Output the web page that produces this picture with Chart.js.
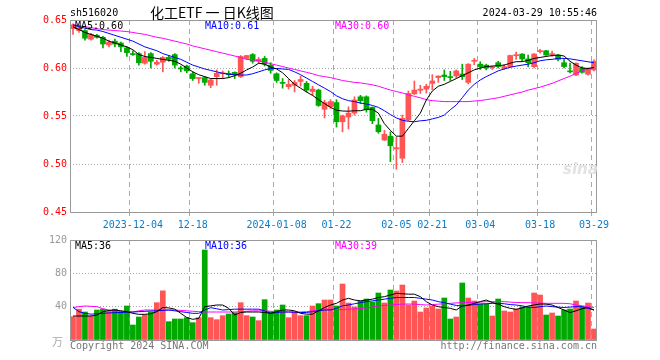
<!DOCTYPE html>
<html>
<head>
<meta charset="utf-8">
<script src="https://cdn.jsdelivr.net/npm/chart.js@4"></script>
<style>
  body { margin:0; background:#fff; }
  #wrap { position:relative; width:660px; height:360px; overflow:hidden; }
  canvas { position:absolute; left:0; }
  .t { position:absolute; font:10px "DejaVu Sans Mono", monospace; line-height:12px; white-space:pre; }
</style>
</head>
<body>
<div id="wrap">
  <canvas id="k" width="660" height="232" style="top:0"></canvas>
  <canvas id="v" width="660" height="130" style="top:230px"></canvas>
  <div class="t" style="left:70px;top:7px">sh516020</div>
  <div class="t" style="left:150px;top:3px;font:14px 'Noto Sans CJK SC';line-height:18px">化工ETF 一 日K线图</div>
  <div class="t" style="right:63px;top:7px">2024-03-29 10:55:46</div>
  <div class="t" style="left:75px;top:20px">MA5:0.60</div>
  <div class="t" style="left:205px;top:20px;color:#0000ff">MA10:0.61</div>
  <div class="t" style="left:335px;top:20px;color:#ff00ff">MA30:0.60</div>
  <div class="t" style="left:75px;top:240px">MA5:36</div>
  <div class="t" style="left:205px;top:240px;color:#0000ff">MA10:36</div>
  <div class="t" style="left:335px;top:240px;color:#ff00ff">MA30:39</div>
  <div class="t" style="left:52px;top:333px;color:#aaa;font:11px 'Noto Sans CJK SC'">万</div>
  <div class="t" style="left:70px;top:340px;color:#777">Copyright 2024 SINA.COM</div>
  <div class="t" style="right:63px;top:340px;color:#777">http://finance.sina.com.cn</div>
  <div class="t" style="left:563px;top:160px;color:#e2e2e2;font:italic bold 15px 'DejaVu Sans'">sina</div>
</div>
<script>
// trading days 2023-11-20 .. 2024-03-29
const dates = [
  '2023-11-20','2023-11-21','2023-11-22','2023-11-23','2023-11-24','2023-11-27','2023-11-28','2023-11-29','2023-11-30','2023-12-01',
  '2023-12-04','2023-12-05','2023-12-06','2023-12-07','2023-12-08','2023-12-11','2023-12-12','2023-12-13','2023-12-14','2023-12-15',
  '2023-12-18','2023-12-19','2023-12-20','2023-12-21','2023-12-22','2023-12-25','2023-12-26','2023-12-27','2023-12-28','2023-12-29',
  '2024-01-02','2024-01-03','2024-01-04','2024-01-05','2024-01-08','2024-01-09','2024-01-10','2024-01-11','2024-01-12','2024-01-15',
  '2024-01-16','2024-01-17','2024-01-18','2024-01-19','2024-01-22','2024-01-23','2024-01-24','2024-01-25','2024-01-26','2024-01-29',
  '2024-01-30','2024-01-31','2024-02-01','2024-02-02','2024-02-05','2024-02-06','2024-02-07','2024-02-08','2024-02-19','2024-02-20',
  '2024-02-21','2024-02-22','2024-02-23','2024-02-26','2024-02-27','2024-02-28','2024-02-29','2024-03-01','2024-03-04','2024-03-05',
  '2024-03-06','2024-03-07','2024-03-08','2024-03-11','2024-03-12','2024-03-13','2024-03-14','2024-03-15','2024-03-18','2024-03-19',
  '2024-03-20','2024-03-21','2024-03-22','2024-03-25','2024-03-26','2024-03-27','2024-03-28','2024-03-29'
];
const tickDates = ['2023-12-04','2023-12-18','2024-01-08','2024-01-22','2024-02-05','2024-02-21','2024-03-04','2024-03-18','2024-03-29'];
const tickTexts = ['2023-12-04','12-18','2024-01-08','01-22','02-05','02-21','03-04','03-18','03-29'];

const open = [
  .641,.639,.639,.630,.634,.632,.624,.628,.626,.621, .615,.615,.605,.615,.604,.606,.611,.614,.600,.602,
  .594,.589,.590,.582,.591,.594,.5945,.5955,.591,.610, .614,.607,.610,.603,.594,.585,.5805,.582,.586,.584,
  .5755,.577,.557,.5597,.564,.544,.549,.553,.570,.570, .559,.5406,.525,.529,.5157,.506,.546,.573,.5768,.578,
  .584,.590,.5927,.591,.5917,.5937,.585,.607,.604,.603, .6003,.6055,.5997,.6014,.6128,.6145,.6094,.6014,.617,.618,
  .614,.6135,.6055,.5965,.5927,.600,.5935,.598
];
const high = [
  .646,.643,.640,.636,.635,.633,.629,.630,.627,.622, .618,.616,.617,.616,.608,.612,.613,.615,.602,.603,
  .596,.590,.591,.5885,.598,.597,.597,.596,.613,.613, .615,.611,.612,.6055,.595,.589,.588,.587,.5915,.586,
  .581,.578,.5665,.567,.567,.551,.5595,.570,.5715,.571, .5595,.5475,.535,.5335,.528,.551,.576,.5865,.582,.583,
  .593,.5917,.598,.5965,.598,.604,.6045,.610,.6065,.604, .602,.607,.6035,.6135,.6165,.615,.6135,.615,.6195,.6185,
  .6175,.614,.609,.605,.6055,.6015,.600,.6085
];
const low = [
  .635,.637,.629,.629,.631,.621,.622,.622,.617,.612, .613,.603,.604,.600,.603,.596,.607,.600,.596,.595,
  .587,.584,.582,.5795,.582,.589,.590,.589,.590,.609, .605,.605,.602,.5945,.585,.579,.578,.575,.581,.575,
  .5715,.560,.548,.558,.5385,.5335,.5365,.551,.563,.554, .542,.532,.5245,.5025,.4945,.5015,.545,.5725,.5735,.574,
  .5775,.585,.587,.587,.5895,.588,.5835,.6035,.5985,.598, .5985,.600,.5985,.601,.609,.607,.601,.600,.6155,.613,
  .612,.6075,.600,.595,.592,.5945,.5925,.597
];
const close = [
  .645,.642,.631,.635,.632,.625,.627,.625,.622,.616, .614,.6055,.611,.607,.606,.611,.609,.603,.599,.597,
  .589,.590,.585,.5875,.5945,.595,.593,.593,.612,.613, .607,.609,.604,.5975,.587,.584,.583,.585,.588,.577,
  .578,.561,.564,.565,.544,.550,.553,.5667,.566,.5565, .545,.5336,.531,.519,.517,.5475,.5735,.577,.578,.581,
  .5865,.5917,.591,.590,.597,.591,.604,.608,.6015,.600, .601,.6015,.6014,.613,.6135,.6094,.6055,.6146,.618,.6135,
  .615,.609,.6015,.596,.605,.5955,.5997,.607
];
const ma5 = [
  .643,.640,.637,.635,.633,.631,.628,.626,.624,.622, .619,.614,.612,.611,.610,.609,.608,.607,.604,.600,
  .596,.593,.591,.589,.589,.589,.590,.592,.5945,.598, .601,.605,.604,.601,.599,.595,.589,.583,.579,.575,
  .5715,.567,.563,.559,.556,.5552,.555,.5555,.5555,.557, .557,.553,.542,.535,.529,.529,.537,.545,.553,.5667,
  .576,.581,.583,.586,.589,.592,.595,.598,.600,.6015, .602,.6025,.603,.605,.6066,.6066,.608,.610,.611,.612,
  .613,.6135,.6125,.607,.603,.600,.5995,.6005
];
const ma10 = [
  .645,.643,.6415,.640,.6395,.638,.636,.634,.632,.630, .628,.625,.622,.620,.618,.615,.613,.611,.609,.606,
  .603,.601,.599,.5975,.596,.5945,.5935,.593,.5927,.5927, .594,.596,.598,.5995,.5995,.599,.5985,.596,.593,.5895,
  .586,.5825,.579,.5755,.571,.568,.566,.565,.5635,.5625, .561,.559,.5555,.5515,.548,.5455,.5445,.544,.545,.5455,
  .547,.5485,.551,.5565,.5615,.569,.577,.583,.5875,.591, .594,.597,.599,.6007,.602,.603,.604,.6055,.6075,.6085,
  .609,.610,.610,.6095,.6085,.6075,.6065,.6055
];
const ma30 = [
  .645,.644,.643,.642,.641,.640,.6395,.639,.6385,.638, .637,.636,.635,.6335,.632,.631,.6295,.628,.6265,.625,
  .623,.6215,.620,.6185,.617,.6155,.614,.6125,.611,.609, .6085,.6075,.606,.6045,.603,.6015,.600,.5985,.597,.5955,
  .594,.592,.591,.590,.5885,.587,.586,.585,.5845,.5835, .5825,.581,.579,.577,.5755,.574,.572,.5705,.569,.567,
  .566,.5655,.565,.565,.565,.565,.565,.5656,.566,.567, .568,.569,.5705,.572,.5735,.575,.577,.5785,.580,.582,
  .584,.5865,.589,.5915,.5945,.597,.599,.6005
];
// volume, 万
const vol = [
  28,37,33.6,28.8,36,37,34.8,37,34,40.8, 18,27.6,30,33.6,44.8,59,22,25.2,25.2,26.8,
  20.8,26.8,108,26.8,24.4,29.2,31.2,32.8,44.8,29.2, 27.6,23.2,48.4,34,36,42,26.8,33.6,29.2,29.2,
  40.8,43.6,48,48,40.8,67.2,44.4,39.6,46.8,49.2, 45.6,56.4,44.4,60,58.8,66,42,46.8,33.6,38.4,
  40.8,37.2,50.4,25.2,27.6,68.4,50.4,46.8,43.2,43.2, 28.8,49.2,34.8,33.6,37.2,39.6,39.6,56.4,54,30,
  32.4,28.8,36,37.2,46.8,39.6,44.4,13.2
];
const volMa5 = [
  28.8,28.8,28.8,28.8,30,34,35.5,36,35,34, 32,30.8,30.8,31.5,34,39,38.5,37,32,27,
  24.8,26,40,41,42,42,38,30,33,33.6, 33.6,33.6,33,32,34,36,36,35,32,31,
  31,35,39,42,44,48,50,48,47,48, 49,51,52,54,56,55.5,55,55,52,46,
  42,40,39,38,36,40.8,42,44,46,48, 45,43,40,38,36.8,38.5,40.8,42,43.2,43,
  42,39,36,33,35,37.5,39,36
];
const volMa10 = [
  39.2,34,32,31,31.5,32,32.5,32.8,33,33.3, 33.6,34,34.4,34.8,35,35.5,36,35,34,33,
  32,32,36,38.8,37.5,36,36.5,37,37,37, 37,37,35,32,33,33.6,33.6,33.3,33,33,
  34,35,36,36,38,41,42,43.5,44.8,46, 47,48,49,50,51,51,51,51,50,49,
  48,46,44.8,43,41.5,40.8,41.5,42.5,43.2,43.5, 44,44,43.5,42.5,42,41,39.5,39,40,40.8,
  40,39.5,39,39.5,40,40,38,36
];
const volMa30 = [
  39,40,40.8,40.4,40,37.5,36,35,34.5,34, 33.6,35,36,36,36,36,36,36,35.5,35,
  34.5,34,33.6,33.6,33.6,33.6,33.6,33.6,34,34.5, 35,35,35,34.5,34,33.6,33.6,33.6,33.6,34,
  35,36,37,37,36.5,36.5,37,37.3,37.6,38.5, 39.5,40.8,41.5,42,42.5,43,43.2,43,42.5,42,
  42.5,43,43.5,44,44.5,44.8,45,45.3,45.5,46, 46,46,46,45.5,45,44.8,44.8,44.5,44.3,44,
  44,44,44,43.5,42,41,40,39
];

const RED = '#ff5555', GREEN = '#00a800';
const colors = close.map((c, i) => c >= open[i] ? RED : GREEN);
const bodies = open.map((o, i) => [Math.min(o, close[i]), Math.max(o, close[i])]);
const wicks = low.map((l, i) => [l, high[i]]);
const tickIdx = new Set(tickDates.map(d => dates.indexOf(d)));
const CLEAR = 'rgba(0,0,0,0)';

Chart.defaults.font.family = '"DejaVu Sans Mono", monospace';
Chart.defaults.font.size = 10;

// grey box round each panel
const frame = {
  id: 'frame',
  afterDatasetsDraw(c) {
    const { ctx, chartArea: a } = c;
    ctx.save();
    ctx.strokeStyle = '#999';
    ctx.lineWidth = 1;
    ctx.strokeRect(Math.round(a.left) + .5, Math.round(a.top) + .5,
                   Math.round(a.right - a.left) - 1, Math.round(a.bottom - a.top));
    ctx.restore();
  }
};

const maLine = (data, color) => ({
  type: 'line', data, borderColor: color, borderWidth: 1,
  pointRadius: 0, tension: 0, order: 0
});

const xAxis = (showLabels, h) => ({
  offset: true,
  afterFit: s => { s.height = h; },
  grid: {
    offset: true,
    color: c => tickIdx.has(c.index) ? '#aaa' : CLEAR,
    drawTicks: showLabels, tickLength: 4
  },
  border: { display: false, dash: [5, 4] },
  ticks: {
    display: showLabels, autoSkip: false, maxRotation: 0, color: '#0a7cc8',
    callback: (v, i) => { const k = tickDates.indexOf(dates[i]); return k < 0 ? '' : tickTexts[k]; }
  }
});

new Chart(document.getElementById('k'), {
  type: 'bar',
  data: {
    labels: dates,
    datasets: [
      maLine(ma5, '#000000'),
      maLine(ma10, '#0000ff'),
      maLine(ma30, '#ff00ff'),
      { data: bodies, backgroundColor: colors, barThickness: 5, minBarLength: 1, grouped: false, order: 1 },
      { data: wicks, backgroundColor: colors, barThickness: 1, grouped: false, order: 2 }
    ]
  },
  options: {
    responsive: false, animation: false, devicePixelRatio: 1,
    layout: { padding: { top: 20, right: 63, left: 0, bottom: 0 } },
    plugins: { legend: { display: false }, tooltip: { enabled: false } },
    scales: {
      x: xAxis(true, 20),
      y: {
        min: 0.45, max: 0.65,
        afterFit: s => { s.width = 70; },
        ticks: { stepSize: 0.05, padding: 3, color: '#ff0000', callback: v => v.toFixed(2) },
        grid: { drawTicks: false, color: c => (c.index > 0 && c.index < 4) ? '#aaa' : CLEAR },
        border: { display: false, dash: [1, 2] }
      }
    }
  },
  plugins: [frame]
});

new Chart(document.getElementById('v'), {
  type: 'bar',
  data: {
    labels: dates,
    datasets: [
      maLine(volMa5, '#000000'),
      maLine(volMa10, '#0000ff'),
      maLine(volMa30, '#ff00ff'),
      { data: vol, backgroundColor: colors, barThickness: 5, order: 1 }
    ]
  },
  options: {
    responsive: false, animation: false, devicePixelRatio: 1,
    layout: { padding: { top: 10, right: 63, left: 0, bottom: 0 } },
    plugins: { legend: { display: false }, tooltip: { enabled: false } },
    scales: {
      x: xAxis(false, 20),
      y: {
        min: 0, max: 120,
        afterFit: s => { s.width = 70; },
        ticks: { stepSize: 40, padding: 3, color: '#999', callback: v => v === 0 ? '' : v },
        grid: { drawTicks: false, color: c => (c.index > 0 && c.index < 3) ? '#aaa' : CLEAR },
        border: { display: false, dash: [1, 2] }
      }
    }
  },
  plugins: [frame]
});
</script>
</body>
</html>
